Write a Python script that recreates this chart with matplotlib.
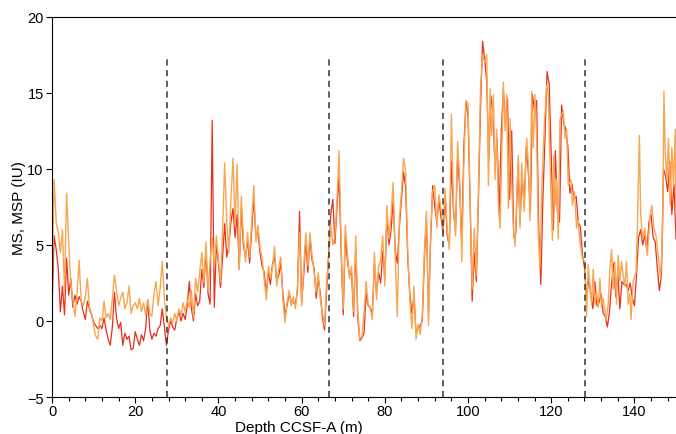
import numpy as np
import matplotlib
matplotlib.use("Agg")
from matplotlib import pyplot as plt
from matplotlib.ticker import MultipleLocator

plt.rcParams['font.family'] = ['Liberation Sans', 'DejaVu Sans']

# MSP (orange) - depth in m, values in IU
depth_msp = [
    0.0, 0.5, 1.0, 1.5, 2.0, 2.5, 3.0, 3.5, 4.0, 4.5,
    5.0, 5.5, 6.0, 6.5, 7.0, 7.5, 8.0, 8.5, 9.0, 9.5,
    10.0, 10.5, 11.0, 11.5, 12.0, 12.5, 13.0, 13.5, 14.0, 14.5,
    15.0, 15.5, 16.0, 16.5, 17.0, 17.5, 18.0, 18.5, 19.0, 19.5,
    20.0, 20.5, 21.0, 21.5, 22.0, 22.5, 23.0, 23.5, 24.0, 24.5,
    25.0, 25.5, 26.0, 26.5, 27.0, 27.5, 28.0, 28.5, 29.0, 29.5,
    30.0, 30.5, 31.0, 31.5, 32.0, 32.5, 33.0, 33.5, 34.0, 34.5,
    35.0, 35.5, 36.0, 36.5, 37.0, 37.5, 38.0, 38.5, 39.0, 39.5,
    40.0, 40.5, 41.0, 41.5, 42.0, 42.5, 43.0, 43.5, 44.0, 44.5,
    45.0, 45.5, 46.0, 46.5, 47.0, 47.5, 48.0, 48.5, 49.0, 49.5,
    50.0, 50.5, 51.0, 51.5, 52.0, 52.5, 53.0, 53.5, 54.0, 54.5,
    55.0, 55.5, 56.0, 56.5, 57.0, 57.5, 58.0, 58.5, 59.0, 59.5,
    60.0, 60.5, 61.0, 61.5, 62.0, 62.5, 63.0, 63.5, 64.0, 64.5,
    65.0, 65.5, 66.0, 66.5, 67.0, 67.5, 68.0, 68.5, 69.0, 69.5,
    70.0, 70.5, 71.0, 71.5, 72.0, 72.5, 73.0, 73.5, 74.0, 74.5,
    75.0, 75.5, 76.0, 76.5, 77.0, 77.5, 78.0, 78.5, 79.0, 79.5,
    80.0, 80.5, 81.0, 81.5, 82.0, 82.5, 83.0, 83.5, 84.0, 84.5,
    85.0, 85.5, 86.0, 86.5, 87.0, 87.5, 88.0, 88.5, 89.0, 89.5,
    90.0, 90.5, 91.0, 91.5, 92.0, 92.5, 93.0, 93.5, 94.0, 94.5,
    95.0, 95.5, 96.0, 96.5, 97.0, 97.5, 98.0, 98.5, 99.0, 99.5,
    100.0, 100.5, 101.0, 101.5, 102.0, 102.5, 103.0, 103.5, 104.0, 104.5,
    104.9, 105.3, 105.7, 106.1, 106.5, 106.9, 107.3, 107.7, 108.1, 108.5,
    108.9, 109.3, 109.7, 110.1, 110.5, 110.9, 111.3, 111.7, 112.1, 112.5,
    112.9, 113.5, 114.1, 114.5, 114.9, 115.3, 115.7, 116.1, 116.5, 116.9,
    117.3, 117.7, 118.3, 118.9, 119.3, 119.7, 120.3, 120.6, 120.9, 121.3,
    121.7, 122.1, 122.5, 122.9, 123.3, 123.7, 124.1, 124.8, 125.1, 125.6,
    126.1, 126.5, 126.9, 127.5, 128.1, 128.5, 128.9, 129.3, 129.7, 130.1,
    130.5, 130.9, 131.3, 131.7, 132.1, 132.5, 133.2, 133.7, 134.1, 134.5,
    134.9, 135.3, 135.7, 136.1, 136.5, 136.9, 137.3, 137.7, 138.1, 138.5,
    138.9, 139.2, 139.7, 140.4, 140.7, 141.2, 141.5, 142.0, 142.5, 143.1,
    143.8, 144.2, 144.7, 145.2, 145.7, 146.3, 146.8, 147.1, 147.4, 147.8,
    148.2, 148.6, 149.0, 149.4, 149.8, 150.0,
]
msp = [
    2.5, 9.3, 6.5, 5.8, 4.5, 6.0, 2.0, 8.4, 5.2, 2.5,
    1.4, 0.3, 1.8, 4.0, 1.3, 1.0, 1.6, 2.8, 0.9, 0.5,
    -0.3, -1.0, -1.2, 0.2, 0.0, 1.3, 0.2, 0.5, 0.1, 1.5,
    3.0, 2.0, 1.0, 1.5, 1.9, 0.8, 1.2, 2.3, 0.5, 1.0,
    1.2, 0.8, 1.5, 0.6, 1.2, 0.4, 1.4, 0.5, 0.3, 1.8,
    2.6, 1.0, 2.2, 3.9, 1.5, 0.2, -0.3, 0.2, -0.1, 0.5,
    0.0, 0.8, 0.4, 1.2, 0.6, 1.4, 0.9, 2.0, 0.2, 2.8,
    1.9, 3.2, 4.5, 2.5, 5.2, 2.0, 4.0, 5.5, 3.5, 5.6,
    4.0, 2.6, 6.0, 10.4, 6.5, 4.5, 8.0, 10.7, 6.3, 10.3,
    3.4, 8.2, 5.5, 3.9, 5.8, 4.2, 6.5, 8.9, 5.2, 6.3,
    4.8, 4.1, 2.8, 1.4, 3.6, 2.8, 3.5, 4.9, 2.3, 3.5,
    4.2, 1.4, -0.1, 1.2, 2.0, 1.0, 1.6, 0.8, 2.3, 5.8,
    1.0, 3.5, 5.8, 3.6, 5.8, 4.3, 3.2, 1.9, 3.2, 1.4,
    0.5, -0.3, 2.5, 4.1, 6.3, 5.0, 5.6, 8.0, 11.2, 5.0,
    0.8, 6.3, 4.5, 2.8, 3.6, 0.6, 5.6, 0.6, -1.2, -1.0,
    0.5, 2.6, 1.1, 0.8, 0.1, 4.5, 1.4, 3.6, 4.0, 5.6,
    2.3, 7.6, 5.4, 7.0, 9.1, 4.1, 0.3, 6.7, 8.5, 10.7,
    9.8, 4.7, 1.4, -0.5, 2.3, -1.2, -0.2, -0.9, 0.3, 4.5,
    7.2, -0.3, 5.8, 8.5, 8.9, 6.1, 8.3, 7.4, 6.1, 8.7,
    6.0, 4.7, 13.6, 7.6, 5.6, 11.8, 9.3, 3.9, 10.4, 14.5,
    14.3, 8.3, 2.1, 6.1, 3.0, 8.5, 15.3, 17.5, 17.0, 17.5,
    8.9, 15.3, 12.2, 14.9, 9.3, 12.6, 7.6, 6.1, 11.0, 15.7,
    12.5, 14.9, 7.4, 13.3, 9.0, 6.1, 4.9, 8.0, 10.9, 6.1,
    10.4, 7.2, 12.0, 10.4, 6.6, 15.1, 11.4, 14.9, 12.0, 5.6,
    3.4, 8.5, 12.6, 15.5, 14.9, 10.4, 5.3, 10.9, 7.6, 9.3,
    5.4, 13.2, 13.6, 13.8, 12.0, 12.6, 8.9, 9.3, 7.6, 8.5,
    6.1, 6.6, 5.2, 4.1, 3.9, 0.3, 3.7, 2.3, 1.1, 3.4,
    1.1, 1.9, 0.9, 2.8, 0.9, 1.5, 0.1, 1.1, 3.4, 4.7,
    2.1, 3.9, 1.1, 4.3, 2.6, 3.9, 3.0, 2.3, 3.9, 1.1,
    1.8, 0.1, 2.6, 3.2, 6.1, 12.2, 7.0, 5.4, 6.1, 4.3,
    7.0, 7.6, 6.1, 5.6, 4.3, 2.8, 6.1, 15.1, 11.1, 9.3,
    12.0, 7.6, 11.4, 8.9, 12.6, 7.0,
]

# MS (red), sampled every 0.5 m
depth_ms = np.arange(0, 150.01, 0.5)
ms = [
    0.8, 5.6, 4.7, 3.4, 0.6, 2.3, 0.4, 4.1, 1.7, 2.8,
    0.9, 1.7, 1.1, 1.6, 1.3, 0.6, 0.1, 1.3, 0.8, 0.4,
    -0.1, -0.3, -0.5, -0.3, -0.5, 0.2, -0.6, -1.2, -1.6, -0.4,
    1.9, 0.2, -0.5, -0.1, -1.6, -0.8, -1.2, -1.0, -1.9, -1.8,
    -0.7, -1.2, -1.6, -0.9, -1.3, -0.5, 1.4, -0.6, -1.2, -0.8,
    -1.0, -0.5, -0.3, 0.8, -0.4, -1.6, -0.6, 0.0, -0.4, -0.6,
    0.2, 0.6, 0.0, 0.5, 0.1, 1.0, 2.6, 0.8, 0.0, 1.8,
    1.0, 1.3, 3.4, 2.2, 4.7, 1.8, 1.1, 13.2, 0.9, 5.1,
    3.8, 2.2, 4.2, 6.4, 4.2, 5.0, 6.5, 7.4, 5.5, 7.0,
    3.4, 7.5, 5.0, 4.2, 5.3, 3.8, 6.0, 8.0, 5.6, 5.8,
    4.5, 3.6, 3.2, 1.8, 3.2, 2.4, 3.8, 4.2, 2.6, 3.0,
    3.8, 1.8, 0.4, 1.0, 1.8, 1.3, 1.2, 1.1, 2.0, 7.2,
    1.2, 3.0, 5.2, 3.2, 5.4, 4.0, 3.5, 1.5, 2.8, 1.8,
    0.2, -0.6, 2.0, 4.5, 7.0, 8.0, 5.1, 7.5, 9.5, 4.5,
    0.4, 5.6, 4.0, 3.0, 3.2, 0.3, 4.8, 0.2, -1.3, -1.1,
    -0.8, 1.8, 1.0, 0.9, 0.5, 3.8, 1.8, 3.2, 2.5, 4.6,
    2.8, 6.8, 5.0, 6.0, 8.0, 4.6, 3.8, 6.2, 8.0, 9.8,
    8.8, 4.2, 1.8, 0.5, 1.6, -0.8, -0.5, -0.3, 0.0, 4.0,
    6.8, 0.4, 5.2, 8.9, 7.5, 6.5, 8.0, 6.8, 5.8, 8.2,
    5.6, 5.0, 10.5, 7.2, 6.0, 10.8, 8.8, 5.0, 11.5, 14.4,
    13.5, 7.8, 1.3, 4.5, 2.6, 8.0, 14.0, 18.4, 17.2, 15.8,
    10.5, 14.8, 13.6, 10.0, 12.0, 7.0, 12.5, 15.2, 13.0, 14.6,
    8.0, 12.5, 5.5, 5.8, 10.2, 6.5, 9.6, 7.6, 11.5, 9.8,
    7.2, 14.9, 13.8, 14.5, 6.0, 2.4, 8.0, 12.0, 16.4, 15.6,
    11.0, 6.0, 11.2, 7.2, 6.5, 14.2, 13.0, 12.6, 11.5, 8.4,
    9.0, 8.0, 8.2, 6.5, 6.2, 4.4, 3.5, 1.5, 2.8, 1.8,
    0.8, 2.6, 1.0, 1.2, 1.8, 0.5, 0.3, -0.4, 0.6, 2.4,
    3.8, 1.6, 3.2, 0.8, 2.6, 2.4, 2.4, 2.0, 2.5, 1.5,
    1.0, 3.0, 5.5, 6.0, 5.0, 5.6, 4.6, 6.5, 7.0, 5.5,
    5.2, 3.5, 2.0, 3.0, 10.0, 9.5, 8.5, 10.5, 7.0, 9.0,
    5.4,
]

# core / hole boundaries (dashed)
breaks = [27.6, 66.6, 94.0, 128.1]

fig = plt.figure(figsize=(6.76, 4.35), dpi=100)
ax = fig.add_axes([0.077, 0.085, 0.923, 0.874])

ax.plot(depth_ms, ms, color='#e8301c', lw=0.9)
ax.plot(depth_msp, msp, color='#f8a650', lw=1.0)

for b in breaks:
    ax.plot([b, b], [-5, 17.2], color='#333333', lw=1.1, ls=(0, (4, 3)))

ax.set_xlim(0, 150)
ax.set_ylim(-5, 20)
ax.xaxis.set_major_locator(MultipleLocator(20))
ax.xaxis.set_minor_locator(MultipleLocator(4))
ax.yaxis.set_major_locator(MultipleLocator(5))
ax.tick_params(axis='both', which='major', direction='out', length=4, width=0.8, labelsize=10.5, pad=2)
ax.tick_params(axis='x', which='minor', direction='out', length=3, width=0.8)
ax.tick_params(axis='x', which='major', pad=1)
ax.spines['right'].set_visible(False)

ax.set_xlabel('Depth CCSF-A (m)', fontsize=11, va='center')
ax.xaxis.set_label_coords(0.395, -0.078)
ax.set_ylabel('MS, MSP (IU)', fontsize=11, va='center')
ax.yaxis.set_label_coords(-0.053, 0.5)

plt.savefig('out.png', dpi=100)
